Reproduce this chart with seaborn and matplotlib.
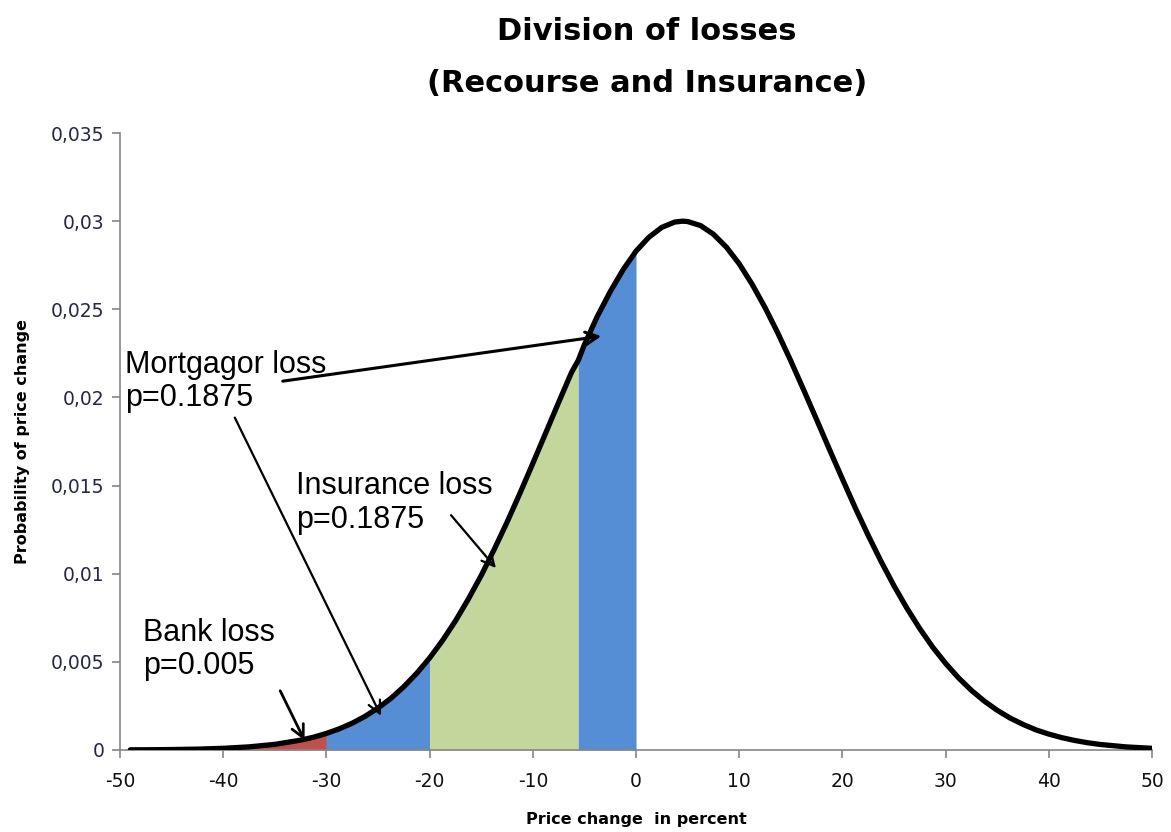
import matplotlib
matplotlib.use("Agg")
import matplotlib.pyplot as plt
import seaborn as sns
import pandas as pd

# ---- data ----
price_change = [-49, -47.5, -45, -42.5, -40, -37.5, -35, -32.5, -31.25, -30, -28.75,
                -27.5, -26.25, -25, -23.75, -22.5, -21.25, -20, -18.75, -17.5, -16.25,
                -15, -13.75, -12.5, -11.25, -10, -8.75, -7.5, -6.25, -5.6, -5, -3.75,
                -2.5, -1.25, 0, 1.25, 2.5, 3.75, 4.5, 5, 6.25, 7.5, 8.75, 10, 11.25,
                12.5, 13.75, 15, 16.25, 17.5, 18.75, 20, 21.25, 22.5, 23.75, 25, 26.25,
                27.5, 28.75, 30, 31.25, 32.5, 33.75, 35, 36.25, 37.5, 38.75, 40, 41.25,
                42.5, 43.75, 45, 47.5, 50]
probability = [0.00001, 0.000011, 0.000024, 0.000048, 0.000094, 0.000176, 0.000318,
               0.000556, 0.000724, 0.00094, 0.0012, 0.00152, 0.00191, 0.00238, 0.00293,
               0.00359, 0.00435, 0.00522, 0.00621, 0.00732, 0.00856, 0.0099, 0.01137,
               0.01292, 0.01456, 0.01626, 0.01799, 0.01972, 0.02142, 0.0221, 0.0230,
               0.0246, 0.0260, 0.02725, 0.0283, 0.02909, 0.02965, 0.02995, 0.0300,
               0.02998, 0.02975, 0.02926, 0.02853, 0.02758, 0.02642, 0.0251, 0.02364,
               0.02207, 0.02042, 0.01874, 0.01704, 0.01537, 0.01373, 0.01217, 0.01069,
               0.00931, 0.00804, 0.00688, 0.00583, 0.00491, 0.00409, 0.00338, 0.00277,
               0.00225, 0.00181, 0.00145, 0.00114, 0.0009, 0.0007, 0.00054, 0.00041,
               0.00031, 0.000174, 0.000094]

# loss zones (boundaries in percent)
zone_names = ["Bank", "Mortgagor (deep)", "Insurance", "Mortgagor"]
zone_bounds = [(-49, -30), (-30, -20), (-20, -5.6), (-5.6, 0)]
zone_colors = ["#C0504D", "#558ED5", "#C3D69B", "#558ED5"]

y_ticks = [0, 0.005, 0.01, 0.015, 0.02, 0.025, 0.03, 0.035]
y_tick_labels = ["0", "0,005", "0,01", "0,015", "0,02", "0,025", "0,03", "0,035"]
x_ticks = [-50, -40, -30, -20, -10, 0, 10, 20, 30, 40, 50]

df = pd.DataFrame({"x": price_change, "y": probability})

sns.set_style("white")
plt.rcParams["font.family"] = ["DejaVu Sans"]
plt.rcParams["text.color"] = "black"
plt.rcParams["axes.labelcolor"] = "black"

fig = plt.figure(figsize=(11.71, 8.32), dpi=100)
ax = fig.add_axes([0.1025, 0.0986, 0.8813, 0.7415])

for (lo, hi), col in zip(zone_bounds, zone_colors):
    sub = df[(df["x"] >= lo) & (df["x"] <= hi)]
    ax.fill_between(sub["x"], 0, sub["y"], color=col, linewidth=0, zorder=1)

sns.lineplot(data=df, x="x", y="y", color="black", linewidth=3.8, ax=ax, zorder=3,
             solid_joinstyle="round", solid_capstyle="round")

ax.set_xlim(-50, 50)
ax.set_ylim(0, 0.035)
ax.set_xticks(x_ticks)
ax.set_xticklabels([str(v) for v in x_ticks], fontsize=13.5, color="#111111")
ax.set_yticks(y_ticks)
ax.set_yticklabels(y_tick_labels, fontsize=13.5, color="#262646")
for s in ["top", "right"]:
    ax.spines[s].set_visible(False)
for s in ["left", "bottom"]:
    ax.spines[s].set_color("#868686")
    ax.spines[s].set_linewidth(1.2)
ax.tick_params(axis="both", direction="out", length=6, width=1.2, color="#868686",
               left=True, bottom=True, pad=5)
ax.tick_params(axis="x", pad=10)

ax.set_xlabel("Price change  in percent", fontsize=11.5, fontweight="bold", color="black")
ax.set_ylabel("Probability of price change", fontsize=11.5, fontweight="bold", color="black")
ax.yaxis.set_label_coords(-0.087, 0.5)
ax.xaxis.set_label_coords(0.5, -0.1)

# annotations
afont = dict(family=["Liberation Sans", "DejaVu Sans"], fontsize=22, color="black")
ax.text(-49.5, 0.0227, "Mortgagor loss\np=0.1875", va="top", ha="left", linespacing=1.15, **afont)
ax.text(-32.9, 0.0158, "Insurance loss\np=0.1875", va="top", ha="left", linespacing=1.15, **afont)
ax.text(-47.8, 0.0075, "Bank loss\np=0.005", va="top", ha="left", linespacing=1.15, **afont)

arrow_style = "->,head_length=0.9,head_width=0.45"
ax.annotate("", xy=(-3.1, 0.0235), xytext=(-34.5, 0.0209),
            arrowprops=dict(arrowstyle=arrow_style, color="black", lw=2.2), zorder=4)
ax.annotate("", xy=(-24.6, 0.0018), xytext=(-39.0, 0.0190),
            arrowprops=dict(arrowstyle=arrow_style, color="black", lw=1.6), zorder=4)
ax.annotate("", xy=(-13.4, 0.0102), xytext=(-18.1, 0.01344),
            arrowprops=dict(arrowstyle=arrow_style, color="black", lw=1.6), zorder=4)
ax.annotate("", xy=(-32.0, 0.0004), xytext=(-34.6, 0.0035),
            arrowprops=dict(arrowstyle=arrow_style, color="black", lw=2.0), zorder=4)

fig.text(0.5525, 0.962, "Division of losses", ha="center", va="center",
         fontsize=22, fontweight="bold", color="black")
fig.text(0.5525, 0.900, "(Recourse and Insurance)", ha="center", va="center",
         fontsize=22, fontweight="bold", color="black")

fig.savefig("out.png", dpi=100)
